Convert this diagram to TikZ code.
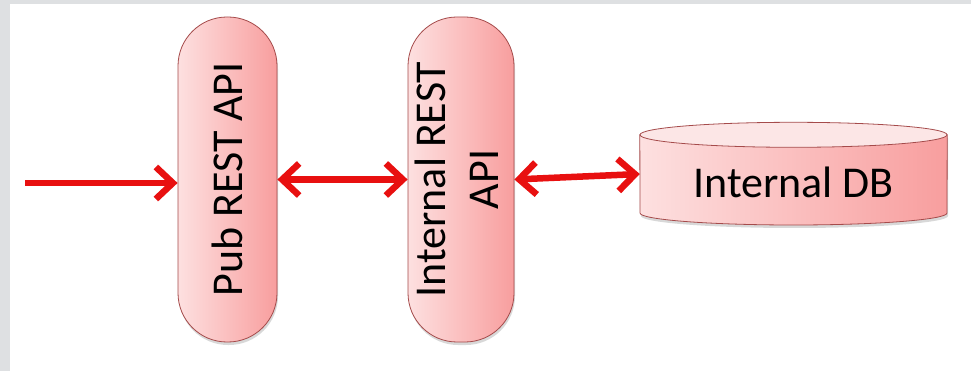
\documentclass[tikz,border=0pt]{standalone}
\usepackage{fontspec}
\setmainfont{Carlito}
\usepackage{graphicx}
\usetikzlibrary{arrows.meta,shadows}
\definecolor{arrowred}{RGB}{232,16,16}
\definecolor{pinkL}{RGB}{253,224,224}
\definecolor{pinkR}{RGB}{248,158,158}
\definecolor{pinkTop}{RGB}{252,230,230}
\definecolor{edgeRed}{RGB}{165,75,75}
\definecolor{frameGray}{RGB}{222,224,226}
\begin{document}
\begin{tikzpicture}[x=1pt,y=-1pt,
  pill/.style={rectangle, rounded corners=49pt, draw=edgeRed, line width=0.8pt,
    left color=pinkL, right color=pinkR, minimum width=99pt, minimum height=325pt,
    inner sep=0pt, drop shadow={opacity=0.3, shadow xshift=1pt, shadow yshift=-3pt},
    font=\fontsize{44}{53}\selectfont, text=black},
  lbl/.style={font=\fontsize{44}{53}\selectfont, text=black},
  conn/.style={draw=arrowred, line width=6.5pt},
  barb/.tip={Straight Barb[length=17pt,width=32pt]},
  cyl/.style={draw=edgeRed, line width=0.8pt},
]
\fill[frameGray] (0,0) rectangle (971,371);
\fill[white] (10,4) rectangle (971,371);
\useasboundingbox (0,0) rectangle (971,371);

\node[pill] (pub) at (227.5,179.5) {\rotatebox{90}{Pub REST API}};
\node[pill, minimum width=102pt] (int) at (461,179.5)
  {\rotatebox{90}{\begin{tabular}{@{}c@{}}Internal REST\\API\end{tabular}}};

\node[minimum width=307pt, minimum height=78pt, inner sep=0pt] (db) at (793.5,174) {};
\path[cyl, left color=pinkL, right color=pinkR,
  drop shadow={opacity=0.3, shadow xshift=1pt, shadow yshift=-3pt}]
  (db.north west) -- (640,213)
  .. controls (640,219.6) and (708.7,225) .. (793.5,225)
  .. controls (878.3,225) and (947,219.6) .. (947,213)
  -- (db.north east) -- cycle;
\path[cyl, fill=pinkTop] (db.north) ellipse [x radius=153.5, y radius=12.5];
\node[lbl] (dbl) at ([yshift=-8pt]db.center) {Internal DB};

\coordinate (src) at (25,183);
\draw[conn, -barb] (src) -- (src -| pub.west);
\draw[conn, barb-barb] (pub.east) -- (int.west);
\draw[conn, barb-barb] (int.east) -- (db.west);
\end{tikzpicture}
\end{document}
